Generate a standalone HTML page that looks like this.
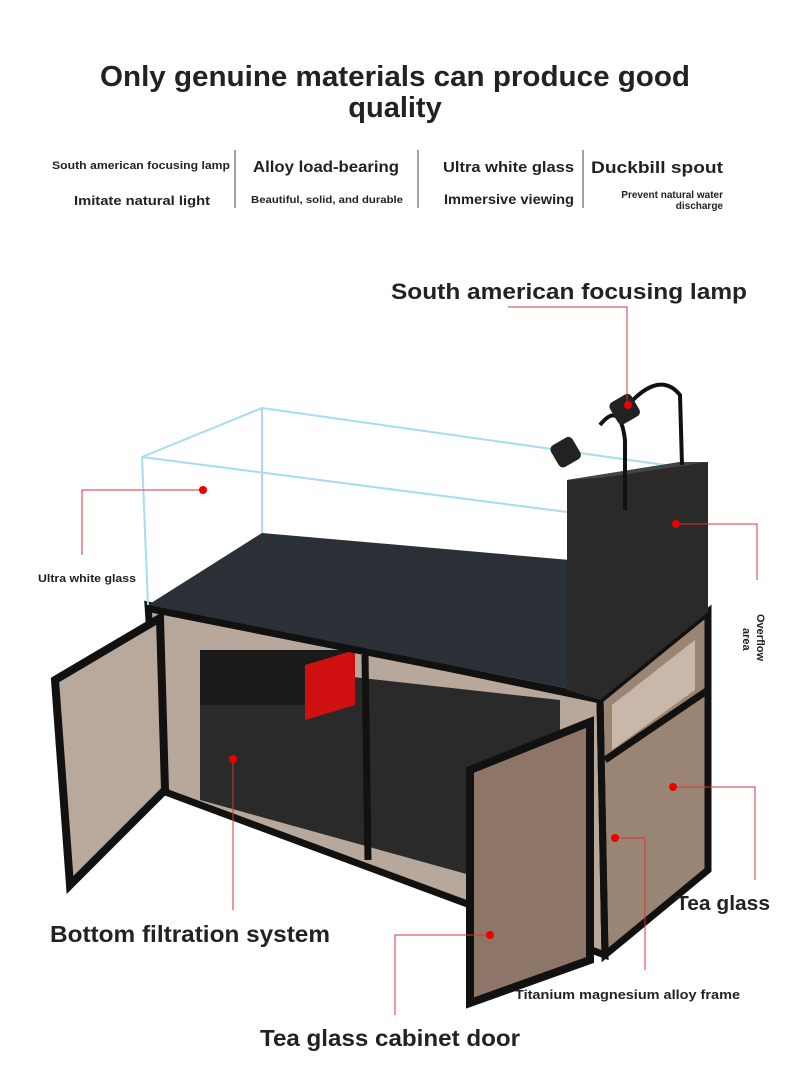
<!DOCTYPE html>
<html><head><meta charset="utf-8"><style>
body{margin:0;background:#fff;}
svg{display:block}
text{font-family:"Liberation Sans",sans-serif;font-weight:bold;fill:#222}
</style></head><body>
<svg width="790" height="1090" viewBox="0 0 790 1090" xmlns="http://www.w3.org/2000/svg">
<rect width="790" height="1090" fill="#fff"/>
<text x="100" y="86" font-size="29" textLength="590" lengthAdjust="spacingAndGlyphs" fill="#111">Only genuine materials can produce good</text>
<text x="395" y="117" font-size="29" text-anchor="middle" fill="#111">quality</text>
<g fill="#222">
<text x="52" y="169" font-size="11" textLength="178" lengthAdjust="spacingAndGlyphs">South american focusing lamp</text>
<text x="74" y="205" font-size="13" textLength="136" lengthAdjust="spacingAndGlyphs">Imitate natural light</text>
<text x="253" y="172" font-size="16" textLength="146" lengthAdjust="spacingAndGlyphs">Alloy load-bearing</text>
<text x="251" y="203" font-size="10" textLength="152" lengthAdjust="spacingAndGlyphs">Beautiful, solid, and durable</text>
<text x="443" y="172" font-size="15" textLength="131" lengthAdjust="spacingAndGlyphs">Ultra white glass</text>
<text x="444" y="204" font-size="14" textLength="130" lengthAdjust="spacingAndGlyphs">Immersive viewing</text>
<text x="591" y="173" font-size="17" textLength="132" lengthAdjust="spacingAndGlyphs">Duckbill spout</text>
<text x="723" y="198" font-size="10" text-anchor="end">Prevent natural water</text>
<text x="723" y="209" font-size="10" text-anchor="end">discharge</text>
</g>
<g stroke="#444" stroke-width="1"><line x1="235" y1="150" x2="235" y2="208"/><line x1="418" y1="150" x2="418" y2="208"/><line x1="583" y1="150" x2="583" y2="208"/></g>
<text x="391" y="299" font-size="22" textLength="356" lengthAdjust="spacingAndGlyphs">South american focusing lamp</text>

<polygon points="148,605 600,700 605,955 160,790" fill="#b8a89c"/>
<polygon points="200,660 560,700 560,900 200,800" fill="#2a2a2a"/>
<polygon points="600,700 708,612 708,870 605,955" fill="#9a8574"/>
<polygon points="612,705 695,640 695,690 612,750" fill="#c9b8aa"/>
<g fill="none" stroke="#111" stroke-width="7">
<polygon points="148,605 600,700 605,955 160,790"/>
<polygon points="600,700 708,612 708,870 605,955"/>
<line x1="365" y1="655" x2="368" y2="860"/>
<line x1="605" y1="760" x2="708" y2="690"/>
</g>
<rect x="200" y="650" width="150" height="55" fill="#1a1a1a"/>
<polygon points="305,665 355,650 355,705 305,720" fill="#d01010"/>
<polygon points="148,605 262,533 570,560 575,690" fill="#2b2f36"/>
<polygon points="148,605 575,690 575,697 148,612" fill="#111"/>
<g fill="none" stroke="#a8dcee" stroke-width="2">
<polyline points="142,457 262,408 700,470"/>
<line x1="142" y1="457" x2="567" y2="512"/>
<line x1="142" y1="457" x2="148" y2="605"/>
<line x1="262" y1="408" x2="262" y2="533"/>
</g>
<polygon points="567,480 680,462 708,462 708,612 600,700 567,690" fill="#2a2a2a"/>
<polygon points="567,480 680,462 708,462 600,478" fill="#444"/>
<path d="M628,405 Q660,370 680,395 L682,465" fill="none" stroke="#111" stroke-width="4"/>
<path d="M600,425 Q620,400 625,440 L625,510" fill="none" stroke="#111" stroke-width="4"/>
<rect x="553" y="440" width="25" height="25" rx="5" fill="#222" transform="rotate(-30 565 452)"/>
<rect x="612" y="397" width="25" height="25" rx="5" fill="#222" transform="rotate(-30 624 409)"/>
<polygon points="55,680 160,618 165,790 70,885" fill="#b9a99c" stroke="#111" stroke-width="8"/>
<polygon points="470,770 590,722 590,960 470,1003" fill="#8d7667" stroke="#111" stroke-width="8"/>
<g fill="none" stroke="#d33" stroke-width="1">
<polyline points="508,307 627,307 627,405"/>
<polyline points="203,490 82,490 82,555"/>
<polyline points="676,524 757,524 757,580"/>
<polyline points="673,787 755,787 755,880"/>
<line x1="233" y1="759" x2="233" y2="910"/>
<polyline points="490,935 395,935 395,1015"/>
<polyline points="615,838 645,838 645,970"/>
</g>
<g fill="#e00"><circle cx="628" cy="405" r="4"/><circle cx="203" cy="490" r="4"/><circle cx="676" cy="524" r="4"/><circle cx="673" cy="787" r="4"/><circle cx="233" cy="759" r="4"/><circle cx="490" cy="935" r="4"/><circle cx="615" cy="838" r="4"/></g>
<text x="38" y="582" font-size="11" textLength="98" lengthAdjust="spacingAndGlyphs">Ultra white glass</text>
<text font-size="11" transform="translate(757,614) rotate(90)">Overflow</text>
<text font-size="11" transform="translate(743,628) rotate(90)">area</text>
<text x="676" y="910" font-size="20" textLength="94" lengthAdjust="spacingAndGlyphs">Tea glass</text>
<text x="50" y="942" font-size="23" textLength="280" lengthAdjust="spacingAndGlyphs">Bottom filtration system</text>
<text x="515" y="999" font-size="13" textLength="225" lengthAdjust="spacingAndGlyphs">Titanium magnesium alloy frame</text>
<text x="260" y="1046" font-size="23" textLength="260" lengthAdjust="spacingAndGlyphs">Tea glass cabinet door</text>
</svg>
</body></html>
